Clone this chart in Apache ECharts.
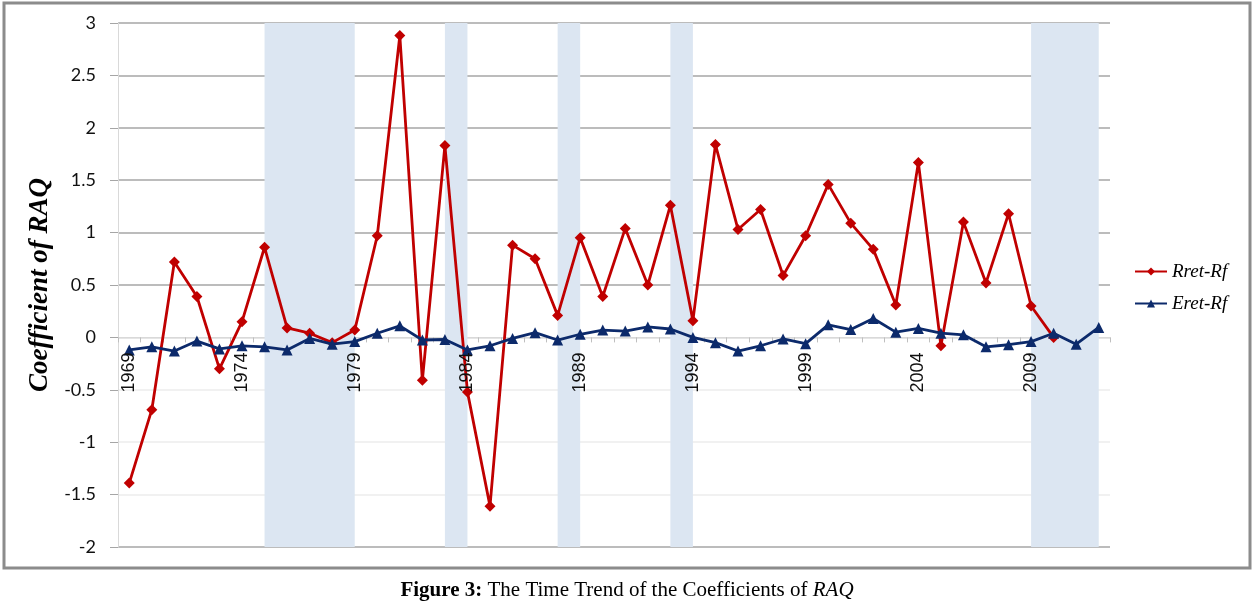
<!DOCTYPE html>
<html>
<head>
<meta charset="utf-8">
<script src="https://cdn.jsdelivr.net/npm/echarts@6/dist/echarts.min.js"></script>
<style>html,body{margin:0;padding:0;background:#fff;}#c{width:1254px;height:609px;}</style>
</head>
<body>
<div id="c"></div>
<script>
const years = [];
for (let y = 1969; y <= 2012; y++) years.push(String(y));

const rretRf = [-1.39, -0.69, 0.72, 0.39, -0.30, 0.15, 0.86, 0.09, 0.04, -0.05,
  0.07, 0.97, 2.88, -0.41, 1.83, -0.52, -1.61, 0.88, 0.75, 0.21,
  0.95, 0.39, 1.04, 0.50, 1.26, 0.16, 1.84, 1.03, 1.22, 0.59,
  0.97, 1.46, 1.09, 0.84, 0.31, 1.67, -0.08, 1.10, 0.52, 1.18,
  0.30, 0.00];

const eretRf = [-0.12, -0.09, -0.13, -0.035, -0.11, -0.08, -0.09, -0.12, -0.01, -0.065,
  -0.04, 0.04, 0.11, -0.025, -0.02, -0.12, -0.08, -0.01, 0.045, -0.025,
  0.03, 0.07, 0.06, 0.10, 0.08, 0.00, -0.05, -0.13, -0.08, -0.015,
  -0.06, 0.12, 0.075, 0.18, 0.05, 0.085, 0.04, 0.025, -0.09, -0.07,
  -0.04, 0.04, -0.065, 0.095];

const shadedPeriods = [['1975', '1979'], ['1983', '1984'], ['1988', '1989'], ['1993', '1994'], ['2009', '2012']];

const yMin = -2, yMax = 3;
const gridTop = 23, gridBottom = 62, chartHeight = 609;
const plotH = chartHeight - gridTop - gridBottom;
const zeroOffset = -plotH * (0 - yMin) / (yMax - yMin);

const chart = echarts.init(document.getElementById('c'), null, {renderer: 'canvas'});
const gridColors = ['#a6a6a6', '#ececec', '#ececec', '#ececec', '#dcdcdc', '#a6a6a6', '#a6a6a6', '#a6a6a6', '#a6a6a6', '#a6a6a6', '#a6a6a6'];

chart.setOption({
  animation: false,
  backgroundColor: '#fff',
  grid: {left: 118, right: 144, top: gridTop, bottom: gridBottom},
  legend: {
    orient: 'vertical',
    left: 1129,
    top: 257,
    itemWidth: 32,
    itemHeight: 10,
    itemGap: 13,
    textStyle: {fontFamily: 'Liberation Serif', fontStyle: 'italic', fontSize: 19, color: '#000'},
    data: ['Rret-Rf', 'Eret-Rf']
  },
  xAxis: [
    {
      type: 'category',
      data: years,
      boundaryGap: true,
      position: 'bottom',
      offset: zeroOffset,
      z: 0,
      axisLine: {onZero: false, lineStyle: {color: '#d9d9d9', width: 1}},
      axisTick: {show: true, interval: 0, length: 5, lineStyle: {color: '#bfbfbf'}},
      axisLabel: {show: false},
      splitLine: {show: false}
    },
    {
      type: 'category',
      data: years,
      boundaryGap: true,
      position: 'bottom',
      offset: zeroOffset,
      z: 10,
      axisLine: {show: false, onZero: false},
      axisTick: {show: false},
      axisLabel: {interval: 4, rotate: 90, margin: 15, fontFamily: 'Liberation Sans', fontSize: 18, color: '#111'},
      splitLine: {show: false}
    }
  ],
  yAxis: {
    type: 'value',
    min: yMin,
    max: yMax,
    interval: 0.5,
    name: 'Coefficient of RAQ',
    nameLocation: 'middle',
    nameGap: 55,
    nameTextStyle: {fontFamily: 'Liberation Serif', fontStyle: 'italic', fontWeight: 'bold', fontSize: 27, color: '#000'},
    axisLine: {show: true, lineStyle: {color: '#d9d9d9'}},
    axisTick: {show: true, length: 8, lineStyle: {color: '#a6a6a6'}},
    axisLabel: {margin: 22, fontFamily: 'Lato', fontSize: 18, color: '#111'},
    splitLine: {show: true, lineStyle: {color: gridColors, width: 1.5}}
  },
  series: [
    {
      name: 'Rret-Rf',
      type: 'line',
      xAxisIndex: 0,
      data: rretRf,
      symbol: 'diamond',
      symbolSize: 11,
      color: '#c00000',
      lineStyle: {width: 2.8, color: '#c00000'},
      itemStyle: {color: '#c00000'},
      z: 3,
      markArea: {
        silent: true,
        itemStyle: {color: '#dce6f2'},
        data: shadedPeriods.map(p => [{xAxis: p[0]}, {xAxis: p[1]}])
      }
    },
    {
      name: 'Eret-Rf',
      type: 'line',
      xAxisIndex: 0,
      data: eretRf,
      symbol: 'triangle',
      symbolSize: 11,
      color: '#0c2a6b',
      lineStyle: {width: 2.8, color: '#0c2a6b'},
      itemStyle: {color: '#0c2a6b'},
      z: 4
    }
  ],
  graphic: [
    {
      type: 'rect',
      shape: {x: 4, y: 3, width: 1246, height: 565},
      style: {fill: null, stroke: '#8c8c8c', lineWidth: 3},
      silent: true,
      z: 100
    },
    {
      type: 'text',
      left: 'center',
      top: 580,
      style: {
        text: '{b|Figure 3:} {r|The Time Trend of the Coefficients of }{i|RAQ}',
        rich: {
          b: {fontFamily: 'Liberation Serif', fontWeight: 'bold', fontSize: 21, fill: '#000'},
          r: {fontFamily: 'Liberation Serif', fontSize: 21, fill: '#000'},
          i: {fontFamily: 'Liberation Serif', fontStyle: 'italic', fontSize: 21, fill: '#000'}
        },
        fill: '#000',
        fontFamily: 'Liberation Serif',
        fontSize: 21
      }
    }
  ]
});
</script>
</body>
</html>
